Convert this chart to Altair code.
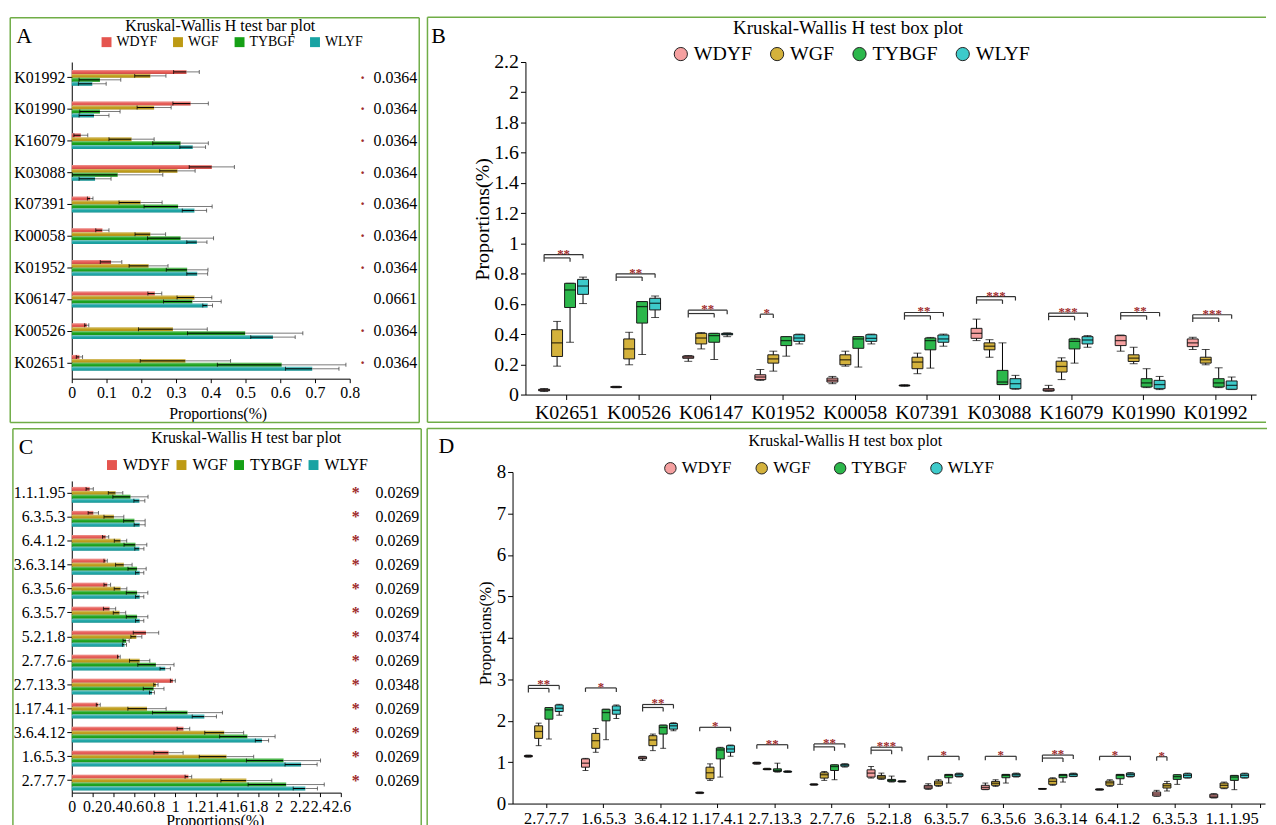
import altair as alt
import pandas as pd

FONT = "Liberation Serif"
GROUPS = ["WDYF", "WGF", "TYBGF", "WLYF"]
BAR_COLORS = ["#E5554F", "#BD9A14", "#16A016", "#18A3A3"]
BOX_COLORS = ["#F5A0A0", "#D4B23C", "#2CB74B", "#3DCACA"]
BORDER = "#70AD47"
STAR = "#9E2A2B"
OFF = [-0.31, -0.13, 0.05, 0.23]
ONE = pd.DataFrame({"k": [0]})
SHADE = alt.Gradient(gradient="linear", x1=0, x2=0, y1=0, y2=1,
                     stops=[alt.GradientStop(color="rgba(255,255,255,0.40)", offset=0),
                            alt.GradientStop(color="rgba(255,255,255,0.0)", offset=0.55),
                            alt.GradientStop(color="rgba(0,0,0,0.14)", offset=1)])

# ---------------- Panel A (bar plot) ----------------
a_cats = ["K01992", "K01990", "K16079", "K03088", "K07391", "K00058", "K01952", "K06147", "K00526", "K02651"]
a_wdyf_mean = [0.330, 0.342, 0.026, 0.403, 0.053, 0.088, 0.113, 0.239, 0.043, 0.022]
a_wdyf_sd = [0.037, 0.051, 0.020, 0.065, 0.008, 0.019, 0.031, 0.020, 0.006, 0.009]
a_wgf_mean = [0.226, 0.237, 0.172, 0.304, 0.198, 0.226, 0.221, 0.353, 0.291, 0.327]
a_wgf_sd = [0.045, 0.049, 0.065, 0.051, 0.062, 0.044, 0.056, 0.050, 0.099, 0.130]
a_tybgf_mean = [0.081, 0.081, 0.313, 0.132, 0.306, 0.313, 0.332, 0.347, 0.499, 0.604]
a_tybgf_sd = [0.060, 0.058, 0.080, 0.130, 0.098, 0.095, 0.060, 0.083, 0.166, 0.185]
a_wlyf_mean = [0.059, 0.064, 0.348, 0.067, 0.353, 0.360, 0.361, 0.391, 0.579, 0.692]
a_wlyf_sd = [0.040, 0.043, 0.037, 0.046, 0.035, 0.029, 0.030, 0.014, 0.064, 0.077]
a_pvals = ["0.0364"] * 7 + ["0.0661", "0.0364", "0.0364"]
a_marks = ["·"] * 7 + ["", "·", "·"]
a_xticks = [0, 0.1, 0.2, 0.3, 0.4, 0.5, 0.6, 0.7, 0.8]

# ---------------- Panel C (bar plot) ----------------
c_cats = ["1.1.1.95", "6.3.5.3", "6.4.1.2", "3.6.3.14", "6.3.5.6", "6.3.5.7", "5.2.1.8",
          "2.7.7.6", "2.7.13.3", "1.17.4.1", "3.6.4.12", "1.6.5.3", "2.7.7.7"]
c_wdyf_mean = [0.173, 0.208, 0.327, 0.327, 0.343, 0.365, 0.717, 0.455, 0.977, 0.256, 1.079, 0.935, 1.127]
c_wdyf_sd = [0.035, 0.050, 0.030, 0.016, 0.032, 0.059, 0.123, 0.013, 0.024, 0.019, 0.061, 0.141, 0.032]
c_wgf_mean = [0.423, 0.407, 0.471, 0.503, 0.471, 0.461, 0.624, 0.656, 0.813, 0.727, 1.473, 1.495, 1.687]
c_wgf_sd = [0.070, 0.096, 0.060, 0.080, 0.061, 0.060, 0.053, 0.098, 0.021, 0.185, 0.188, 0.263, 0.246]
c_tybgf_mean = [0.567, 0.605, 0.615, 0.631, 0.631, 0.631, 0.525, 0.813, 0.791, 1.118, 1.697, 2.046, 2.072]
c_tybgf_sd = [0.170, 0.104, 0.110, 0.088, 0.104, 0.104, 0.030, 0.175, 0.100, 0.338, 0.268, 0.358, 0.368]
c_wlyf_mean = [0.653, 0.656, 0.653, 0.656, 0.656, 0.656, 0.509, 0.903, 0.775, 1.281, 1.838, 2.216, 2.257]
c_wlyf_sd = [0.053, 0.053, 0.044, 0.040, 0.040, 0.040, 0.020, 0.050, 0.024, 0.117, 0.064, 0.155, 0.117]
c_pvals = ["0.0269"] * 6 + ["0.0374", "0.0269", "0.0348"] + ["0.0269"] * 4
c_marks = ["*"] * 13
c_xticks = [0, 0.2, 0.4, 0.6, 0.8, 1, 1.2, 1.4, 1.6, 1.8, 2, 2.2, 2.4, 2.6]

# ---------------- Panel B (box plot) ----------------
b_cats = ["K02651", "K00526", "K06147", "K01952", "K00058", "K07391", "K03088", "K16079", "K01990", "K01992"]
b_wdyf_min = [0.020, 0.045, 0.220, 0.094, 0.072, 0.055, 0.357, 0.022, 0.287, 0.298]
b_wdyf_q1 = [0.025, 0.048, 0.240, 0.099, 0.083, 0.058, 0.372, 0.024, 0.324, 0.317]
b_wdyf_med = [0.030, 0.050, 0.248, 0.116, 0.095, 0.060, 0.405, 0.030, 0.357, 0.342]
b_wdyf_q3 = [0.035, 0.052, 0.255, 0.131, 0.109, 0.062, 0.438, 0.039, 0.390, 0.368]
b_wdyf_max = [0.040, 0.055, 0.258, 0.166, 0.120, 0.065, 0.499, 0.061, 0.394, 0.379]
b_wgf_min = [0.188, 0.197, 0.302, 0.155, 0.188, 0.138, 0.247, 0.099, 0.204, 0.197]
b_wgf_q1 = [0.252, 0.236, 0.335, 0.208, 0.197, 0.171, 0.296, 0.149, 0.219, 0.208]
b_wgf_med = [0.342, 0.302, 0.374, 0.236, 0.230, 0.215, 0.320, 0.186, 0.241, 0.230]
b_wgf_q3 = [0.429, 0.368, 0.405, 0.263, 0.263, 0.247, 0.342, 0.221, 0.263, 0.247]
b_wgf_max = [0.484, 0.412, 0.410, 0.287, 0.287, 0.274, 0.363, 0.243, 0.313, 0.298]
b_tybgf_min = [0.346, 0.265, 0.232, 0.254, 0.182, 0.175, 0.066, 0.208, 0.046, 0.046]
b_tybgf_q1 = [0.576, 0.473, 0.346, 0.324, 0.306, 0.296, 0.066, 0.302, 0.050, 0.050]
b_tybgf_med = [0.692, 0.582, 0.390, 0.357, 0.368, 0.357, 0.083, 0.352, 0.077, 0.077]
b_tybgf_q3 = [0.736, 0.615, 0.405, 0.383, 0.383, 0.374, 0.160, 0.368, 0.105, 0.105]
b_tybgf_max = [0.736, 0.615, 0.405, 0.383, 0.383, 0.378, 0.342, 0.372, 0.171, 0.177]
b_wlyf_min = [0.602, 0.510, 0.383, 0.335, 0.335, 0.320, 0.035, 0.313, 0.033, 0.033]
b_wlyf_q1 = [0.663, 0.560, 0.395, 0.352, 0.352, 0.346, 0.039, 0.335, 0.039, 0.035]
b_wlyf_med = [0.718, 0.604, 0.400, 0.374, 0.372, 0.368, 0.072, 0.361, 0.066, 0.061]
b_wlyf_q3 = [0.762, 0.637, 0.405, 0.396, 0.396, 0.394, 0.105, 0.383, 0.094, 0.090]
b_wlyf_max = [0.777, 0.652, 0.408, 0.400, 0.400, 0.400, 0.127, 0.390, 0.120, 0.116]
b_yticks = [0, 0.2, 0.4, 0.6, 0.8, 1, 1.2, 1.4, 1.6, 1.8, 2, 2.2]
b_br_cats = ["K02651", "K00526", "K06147", "K01952", "K07391", "K03088", "K16079", "K01990", "K01992"]
b_br_end = [3, 3, 3, 1, 3, 3, 3, 3, 3]
b_br_level = [0.926, 0.799, 0.558, 0.532, 0.543, 0.648, 0.539, 0.543, 0.528]
b_br_inner = [True, True, True, False, True, True, True, True, True]
b_br_stars = ["**", "**", "**", "*", "**", "***", "***", "**", "***"]

# ---------------- Panel D (box plot) ----------------
d_cats = ["2.7.7.7", "1.6.5.3", "3.6.4.12", "1.17.4.1", "2.7.13.3", "2.7.7.6", "5.2.1.8",
          "6.3.5.7", "6.3.5.6", "3.6.3.14", "6.4.1.2", "6.3.5.3", "1.1.1.95"]
d_wdyf_min = [1.12, 0.798, 1.04, 0.24, 0.95, 0.445, 0.615, 0.343, 0.335, 0.345, 0.325, 0.176, 0.135]
d_wdyf_q1 = [1.13, 0.878, 1.08, 0.25, 0.96, 0.450, 0.639, 0.359, 0.343, 0.350, 0.330, 0.184, 0.144]
d_wdyf_med = [1.14, 0.974, 1.10, 0.26, 0.975, 0.460, 0.735, 0.400, 0.390, 0.355, 0.340, 0.230, 0.180]
d_wdyf_q3 = [1.16, 1.078, 1.13, 0.27, 0.99, 0.470, 0.814, 0.439, 0.440, 0.360, 0.350, 0.279, 0.224]
d_wdyf_max = [1.17, 1.090, 1.14, 0.28, 1.00, 0.475, 0.894, 0.479, 0.495, 0.365, 0.355, 0.319, 0.240]
d_wgf_min = [1.397, 1.237, 1.277, 0.559, 0.815, 0.559, 0.583, 0.415, 0.415, 0.440, 0.415, 0.303, 0.359]
d_wgf_q1 = [1.573, 1.333, 1.397, 0.599, 0.820, 0.615, 0.599, 0.439, 0.440, 0.463, 0.440, 0.375, 0.375]
d_wgf_med = [1.740, 1.517, 1.533, 0.743, 0.830, 0.695, 0.640, 0.495, 0.490, 0.535, 0.500, 0.430, 0.440]
d_wgf_q3 = [1.876, 1.693, 1.637, 0.878, 0.840, 0.743, 0.679, 0.543, 0.535, 0.599, 0.543, 0.479, 0.495]
d_wgf_max = [1.940, 1.812, 1.677, 0.958, 0.850, 0.774, 0.735, 0.575, 0.575, 0.623, 0.575, 0.535, 0.519]
d_tybgf_min = [1.557, 1.541, 1.333, 0.639, 0.758, 0.575, 0.519, 0.495, 0.495, 0.519, 0.463, 0.463, 0.335]
d_tybgf_q1 = [2.036, 1.996, 1.677, 1.078, 0.774, 0.798, 0.535, 0.623, 0.623, 0.623, 0.599, 0.583, 0.559]
d_tybgf_med = [2.260, 2.196, 1.836, 1.293, 0.800, 0.894, 0.560, 0.680, 0.680, 0.680, 0.680, 0.650, 0.640]
d_tybgf_q3 = [2.315, 2.275, 1.892, 1.341, 0.838, 0.934, 0.583, 0.703, 0.703, 0.703, 0.703, 0.695, 0.679]
d_tybgf_max = [2.315, 2.275, 1.892, 1.357, 0.974, 0.934, 0.663, 0.703, 0.703, 0.703, 0.703, 0.695, 0.679]
d_wlyf_min = [2.132, 2.052, 1.757, 1.142, 0.755, 0.880, 0.520, 0.640, 0.640, 0.650, 0.640, 0.615, 0.615]
d_wlyf_q1 = [2.220, 2.156, 1.796, 1.237, 0.760, 0.900, 0.525, 0.655, 0.655, 0.655, 0.655, 0.623, 0.623]
d_wlyf_med = [2.299, 2.252, 1.876, 1.317, 0.770, 0.930, 0.535, 0.695, 0.695, 0.700, 0.700, 0.680, 0.680]
d_wlyf_q3 = [2.379, 2.355, 1.932, 1.397, 0.780, 0.950, 0.545, 0.719, 0.719, 0.719, 0.735, 0.719, 0.719]
d_wlyf_max = [2.395, 2.379, 1.950, 1.413, 0.790, 0.960, 0.550, 0.735, 0.735, 0.735, 0.745, 0.735, 0.735]
d_yticks = [0, 1, 2, 3, 4, 5, 6, 7, 8]
d_br_cats = ["2.7.7.7", "1.6.5.3", "3.6.4.12", "1.17.4.1", "2.7.13.3", "2.7.7.6", "5.2.1.8",
             "6.3.5.7", "6.3.5.6", "3.6.3.14", "6.4.1.2", "6.3.5.3"]
d_br_end = [3, 3, 3, 3, 3, 3, 3, 3, 3, 3, 3, 1]
d_br_level = [2.85, 2.79, 2.39, 1.84, 1.42, 1.44, 1.36, 1.14, 1.14, 1.17, 1.14, 1.13]
d_br_inner = [True, False, True, False, False, True, True, False, False, True, False, False]
d_br_stars = ["**", "*", "**", "*", "**", "**", "***", "*", "*", "**", "*", "*"]


def decorations(w, h, box, letter, lpos, title, tpos, tsize, right_side=True):
    l, t, r, b = box
    x0, x1, y0, y1 = -l, w + r, -t, h + b
    sides = [
        alt.Chart(ONE).mark_rule(stroke=BORDER, strokeWidth=1.5).encode(
            x=alt.value(x0), x2=alt.value(x1), y=alt.value(y0)),
        alt.Chart(ONE).mark_rule(stroke=BORDER, strokeWidth=1.5).encode(
            x=alt.value(x0), x2=alt.value(x1), y=alt.value(y1)),
        alt.Chart(ONE).mark_rule(stroke=BORDER, strokeWidth=1.5).encode(
            x=alt.value(x0), y=alt.value(y0), y2=alt.value(y1)),
    ]
    if right_side:
        sides.append(alt.Chart(ONE).mark_rule(stroke=BORDER, strokeWidth=1.5).encode(
            x=alt.value(x1), y=alt.value(y0), y2=alt.value(y1)))
    let = alt.Chart(ONE).mark_text(text=letter, align="left", baseline="alphabetic", font=FONT,
                                   fontSize=22, color="black").encode(
        x=alt.value(lpos[0]), y=alt.value(lpos[1]))
    tit = alt.Chart(ONE).mark_text(text=title, align="center", baseline="alphabetic", font=FONT,
                                   fontSize=tsize, color="black").encode(
        x=alt.value(tpos[0]), y=alt.value(tpos[1]))
    return sides, [let, tit]


def bar_panel(cats, means, sds, pvals, marks, xticks, w, h, box, letter, lpos, tpos,
              leg, xtitle, pm_x, pt_x, mark_size):
    rows = []
    for g, ms, ss in zip(GROUPS, means, sds):
        for c, m, s in zip(cats, ms, ss):
            rows.append({"cat": c, "group": g, "mean": m, "lo": max(m - s, 0.0), "hi": m + s})
    df = pd.DataFrame(rows)
    dfp = pd.DataFrame({"cat": cats, "p": pvals, "m": marks})

    yscale = alt.Scale(domain=cats, paddingInner=0.5, paddingOuter=0.25)
    yax = alt.Axis(labelFont=FONT, labelFontSize=16, labelColor="black", tickSize=5,
                   labelPadding=2, tickColor="black", domainColor="black", grid=False, labelLimit=0)
    xscale = alt.Scale(domain=[xticks[0], xticks[-1]], nice=False)
    xax = alt.Axis(values=xticks, format=".2~f", labelFont=FONT, labelFontSize=16, labelColor="black",
                   tickSize=4, labelPadding=2, labelOverlap=False, labelFlush=False, grid=False,
                   tickColor="black", domainColor="black", titleFont=FONT, titleFontSize=16,
                   titleFontWeight="normal", titleColor="black", titleX=xtitle[0], titleY=xtitle[1],
                   titleBaseline="alphabetic")
    yoff = alt.YOffset("group:N", scale=alt.Scale(domain=GROUPS, paddingInner=0, paddingOuter=0))
    yenc = alt.Y("cat:N", scale=yscale, axis=yax, title=None)
    XT = "Proportions(%)"
    base = alt.Chart(df)
    xmean = alt.X("mean:Q", scale=xscale, axis=xax, title=XT)
    bars = base.mark_bar().encode(
        y=yenc, yOffset=yoff, x=xmean,
        color=alt.Color("group:N", scale=alt.Scale(domain=GROUPS, range=BAR_COLORS),
                        legend=alt.Legend(orient="none", legendX=leg[0], legendY=leg[1],
                                          direction="horizontal", title=None, symbolType="square",
                                          symbolSize=100, symbolStrokeWidth=0, labelFont=FONT,
                                          labelFontSize=leg[2], labelColor="black",
                                          columnPadding=leg[3], labelOffset=3, padding=0)))
    shade = base.mark_bar(fill=SHADE).encode(y=yenc, yOffset=yoff, x=xmean)
    err_in = base.mark_rule(color="black", strokeWidth=1).encode(
        y=yenc, yOffset=yoff, x=alt.X("lo:Q", scale=xscale, axis=xax, title=XT), x2="mean:Q")
    err_out = base.mark_rule(color="#7a7a7a", strokeWidth=1).encode(
        y=yenc, yOffset=yoff, x=xmean, x2="hi:Q")
    cap_lo = base.mark_tick(orient="vertical", size=4, thickness=1, color="black").encode(
        y=yenc, yOffset=yoff, x=alt.X("lo:Q", scale=xscale, axis=xax, title=XT))
    cap_hi = base.mark_tick(orient="vertical", size=4, thickness=1, color="#333333").encode(
        y=yenc, yOffset=yoff, x=alt.X("hi:Q", scale=xscale, axis=xax, title=XT))
    ptxt = alt.Chart(dfp).mark_text(align="left", baseline="middle", font=FONT, fontSize=16,
                                    color="black").encode(
        y=yenc, x=alt.value(w + pt_x), text="p:N")
    pmk = alt.Chart(dfp).mark_text(align="center", baseline="middle", font=FONT, fontSize=mark_size,
                                   fontWeight="bold", color=STAR).encode(
        y=yenc, x=alt.value(w + pm_x), text="m:N")
    sides, texts = decorations(w, h, box, letter, lpos, "Kruskal-Wallis H test bar plot", tpos, 16)
    return alt.layer(*sides, bars, shade, err_in, err_out, cap_lo, cap_hi, ptxt, pmk,
                     *texts).properties(width=w, height=h)


def box_panel(cats, stats, yticks, w, h, box, letter, lpos, tpos, tsize, leg, bw, capw,
              xlab, ylab, ytitle, brackets, d_in, d_tick):
    n = len(cats)
    rows = []
    for gi, (g, st) in enumerate(zip(GROUPS, stats)):
        mn, q1, md, q3, mx = st
        for i, c in enumerate(cats):
            rows.append({"x": i + OFF[gi], "group": g, "mn": mn[i], "q1": q1[i], "md": md[i],
                         "q3": q3[i], "mx": mx[i]})
    df = pd.DataFrame(rows)

    names = "[" + ",".join("'" + c + "'" for c in cats) + "]"
    xscale = alt.Scale(domain=[-0.5, n - 0.5], nice=False, zero=False)
    xax = alt.Axis(values=list(range(n)) + [n - 0.5],
                   labelExpr="datum.value <= " + str(n - 1) + " ? " + names + "[round(datum.value)] : ''",
                   labelFont=FONT, labelFontSize=xlab[0], labelColor="black", tickSize=xlab[1],
                   labelPadding=xlab[2], labelOverlap=False, labelFlush=False, grid=False,
                   tickColor="black", domainColor="black")
    yscale = alt.Scale(domain=[yticks[0], yticks[-1]], nice=False)
    yax = alt.Axis(values=yticks, format=".2~f", labelFont=FONT, labelFontSize=ylab[0],
                   labelColor="black", tickSize=5, labelPadding=2, grid=False, tickColor="black",
                   domainColor="black", titleFont=FONT, titleFontSize=ytitle[0],
                   titleFontWeight="normal", titleColor="black", titleX=ytitle[1], titleY=ytitle[2],
                   titleBaseline="middle", titleAngle=270)
    YT = "Proportions(%)"

    def X(field="x"):
        return alt.X(field + ":Q", scale=xscale, axis=xax, title=None)

    def Y(field):
        return alt.Y(field + ":Q", scale=yscale, axis=yax, title=YT)

    base = alt.Chart(df)
    whisk = base.mark_rule(color="black", strokeWidth=1).encode(x=X(), y=Y("mn"), y2="mx:Q")
    cap_lo = base.mark_tick(orient="horizontal", size=capw, thickness=1, color="black").encode(
        x=X(), y=Y("mn"))
    cap_hi = base.mark_tick(orient="horizontal", size=capw, thickness=1, color="black").encode(
        x=X(), y=Y("mx"))
    boxes = base.mark_bar(width=bw, stroke="#1a1a1a", strokeWidth=1).encode(
        x=X(), y=Y("q1"), y2="q3:Q",
        color=alt.Color("group:N", scale=alt.Scale(domain=GROUPS, range=BOX_COLORS),
                        legend=alt.Legend(orient="none", legendX=leg[0], legendY=leg[1],
                                          direction="horizontal", title=None, symbolType="circle",
                                          symbolSize=leg[2], symbolStrokeColor="#222222",
                                          symbolStrokeWidth=1, symbolOpacity=1, labelFont=FONT,
                                          labelFontSize=leg[3], labelColor="black",
                                          columnPadding=leg[4], labelOffset=3, padding=0)))
    med = base.mark_tick(orient="horizontal", size=bw, thickness=1.3, color="black").encode(
        x=X(), y=Y("md"))

    bcats, bend, blevel, binner, bstars = brackets
    h_rows, v_rows, s_rows = [], [], []
    for c, e, L, inner, s in zip(bcats, bend, blevel, binner, bstars):
        i = cats.index(c)
        x0 = i + OFF[0]
        xe = i + OFF[e]
        h_rows.append({"x": x0, "x2": xe, "y": L})
        v_rows.append({"x": xe, "y": L, "y2": L - d_tick})
        if inner:
            xi = i + OFF[2]
            Li = L - d_in
            h_rows.append({"x": x0, "x2": xi, "y": Li})
            v_rows.append({"x": xi, "y": Li, "y2": Li - d_tick})
            v_rows.append({"x": x0, "y": L, "y2": Li - d_tick})
        else:
            v_rows.append({"x": x0, "y": L, "y2": L - d_tick})
        s_rows.append({"x": (x0 + xe) / 2, "y": L, "t": s})
    hl = alt.Chart(pd.DataFrame(h_rows)).mark_rule(color="#333333", strokeWidth=1.2).encode(
        x=X(), x2="x2:Q", y=Y("y"))
    vl = alt.Chart(pd.DataFrame(v_rows)).mark_rule(color="#333333", strokeWidth=1.2).encode(
        x=X(), y=Y("y"), y2="y2:Q")
    st = alt.Chart(pd.DataFrame(s_rows)).mark_text(font=FONT, fontSize=13, fontWeight="bold",
                                                   color=STAR, baseline="middle", align="center",
                                                   dy=-1).encode(
        x=X(), y=Y("y"), text="t:N")
    sides, texts = decorations(w, h, box, letter, lpos, "Kruskal-Wallis H test box plot", tpos,
                               tsize, right_side=False)
    return alt.layer(*sides, whisk, cap_lo, cap_hi, boxes, med, hl, vl, st,
                     *texts).properties(width=w, height=h)


panelA = bar_panel(a_cats,
                   [a_wdyf_mean, a_wgf_mean, a_tybgf_mean, a_wlyf_mean],
                   [a_wdyf_sd, a_wgf_sd, a_tybgf_sd, a_wlyf_sd],
                   a_pvals, a_marks, a_xticks, 280, 319, (62, 44.5, 70, 44.2),
                   "A", (-56, -19), (149.5, -31),
                   (28, -27, 14, 13), (147, 40), 13, 24, 16)

panelB = box_panel(b_cats,
                   [(b_wdyf_min, b_wdyf_q1, b_wdyf_med, b_wdyf_q3, b_wdyf_max),
                    (b_wgf_min, b_wgf_q1, b_wgf_med, b_wgf_q3, b_wgf_max),
                    (b_tybgf_min, b_tybgf_q1, b_tybgf_med, b_tybgf_q3, b_tybgf_max),
                    (b_wlyf_min, b_wlyf_q1, b_wlyf_med, b_wlyf_q3, b_wlyf_max)],
                   b_yticks, 736, 335, (98.7, 45.2, 10, 28), "B", (-95, -19), (325, -28), 19,
                   (146.5, -18, 177, 20, 15), 11, 8, (20, 5, 3), (20,), (20, -43, 158),
                   (b_br_cats, b_br_end, b_br_level, b_br_inner, b_br_stars), 0.022, 0.026)

panelC = bar_panel(c_cats,
                   [c_wdyf_mean, c_wgf_mean, c_tybgf_mean, c_wlyf_mean],
                   [c_wdyf_sd, c_wgf_sd, c_tybgf_sd, c_wlyf_sd],
                   c_pvals, c_marks, c_xticks, 271, 314, (59.3, 52.6, 81, 60),
                   "C", (-53.3, -27.3), (175.7, -38.3),
                   (32.5, -24, 16, 3), (144, 33), 15, 35, 16)

panelD = box_panel(d_cats,
                   [(d_wdyf_min, d_wdyf_q1, d_wdyf_med, d_wdyf_q3, d_wdyf_max),
                    (d_wgf_min, d_wgf_q1, d_wgf_med, d_wgf_q3, d_wgf_max),
                    (d_tybgf_min, d_tybgf_q1, d_tybgf_med, d_tybgf_q3, d_tybgf_max),
                    (d_wlyf_min, d_wlyf_q1, d_wlyf_med, d_wlyf_q3, d_wlyf_max)],
                   d_yticks, 758, 334, (86, 43.7, 2, 60), "D", (-74.7, -19), (335.3, -26), 16,
                   (150.5, -12.5, 133, 17, 21), 8, 6, (16.5, 4, 3), (19,), (17, -27.7, 162),
                   (d_br_cats, d_br_end, d_br_level, d_br_inner, d_br_stars), 0.072, 0.096)

chart = alt.concat(panelA, panelB, panelC, panelD, columns=2, spacing=4, align="none",
                   bounds="full").resolve_scale(
    color="independent", x="independent", y="independent").resolve_legend(
    color="independent").properties(
    padding={"left": 1.25, "top": 5.25, "right": 0, "bottom": 0}).configure(
    font=FONT).configure_axis(labelFont=FONT, titleFont=FONT).configure_legend(
    labelFont=FONT).configure_text(font=FONT).configure_view(stroke=None)

chart.save("out.html", embed_options={"renderer": "svg", "actions": False})
